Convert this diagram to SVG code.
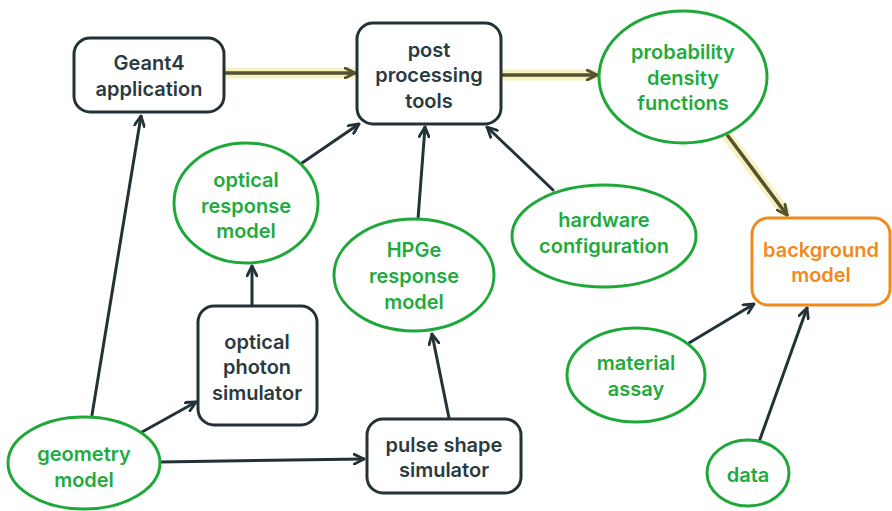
<svg xmlns="http://www.w3.org/2000/svg" width="892" height="511" viewBox="0 0 892 511">
<defs>
<style>
.box{fill:#fff;stroke:#233237;stroke-width:3}
.ell{fill:#fff;stroke:#1fa83a;stroke-width:3}
.bg{fill:#fff;stroke:#f08a1d;stroke-width:3}
text{font-family:Inter,"Liberation Sans",sans-serif;font-weight:600;font-size:20px;text-anchor:middle}
.t{fill:#2a3a3f}
.g{fill:#22ab3c}
.o{fill:#f08a1d}
.c{fill:none;stroke:#233237;stroke-width:3;stroke-linecap:round}
.h{fill:none;stroke:#545330;stroke-width:3.5;stroke-linecap:round}
.glow{fill:none;stroke:#f6eeb9;stroke-width:11;stroke-linecap:round;opacity:0.9}
</style>
<marker id="a" viewBox="0 0 12 12" refX="11" refY="6" markerWidth="12" markerHeight="12" markerUnits="userSpaceOnUse" orient="auto">
<path d="M1,1 L11,6 L1,11" fill="none" stroke="#233237" stroke-width="2.8" stroke-linecap="round" stroke-linejoin="round"/>
</marker>
<marker id="ah" viewBox="0 0 12 12" refX="11" refY="6" markerWidth="12" markerHeight="12" markerUnits="userSpaceOnUse" orient="auto">
<path d="M1,1 L11,6 L1,11" fill="none" stroke="#545330" stroke-width="3" stroke-linecap="round" stroke-linejoin="round"/>
</marker>
</defs>
<rect width="892" height="511" fill="#fff"/>
<g id="connectors">
<line class="glow" x1="218" y1="73" x2="352" y2="73"/>
<line class="glow" x1="498" y1="75" x2="594" y2="75"/>
<line class="glow" x1="728" y1="137" x2="785" y2="212"/>
<line class="h" x1="224" y1="73" x2="355" y2="73" marker-end="url(#ah)"/>
<line class="h" x1="501" y1="75" x2="597" y2="75" marker-end="url(#ah)"/>
<line class="h" x1="728" y1="136" x2="787" y2="215" marker-end="url(#ah)"/>
<line class="c" x1="92" y1="415" x2="141" y2="116" marker-end="url(#a)"/>
<line class="c" x1="142" y1="432" x2="196" y2="402" marker-end="url(#a)"/>
<line class="c" x1="160" y1="462" x2="364" y2="459" marker-end="url(#a)"/>
<line class="c" x1="252" y1="305" x2="252" y2="266" marker-end="url(#a)"/>
<line class="c" x1="302" y1="163" x2="359" y2="124" marker-end="url(#a)"/>
<line class="c" x1="418" y1="219" x2="425" y2="127" marker-end="url(#a)"/>
<line class="c" x1="449" y1="418" x2="432" y2="334" marker-end="url(#a)"/>
<line class="c" x1="553" y1="190" x2="487" y2="127" marker-end="url(#a)"/>
<line class="c" x1="689" y1="343" x2="754" y2="304" marker-end="url(#a)"/>
<line class="c" x1="759" y1="442" x2="807" y2="308" marker-end="url(#a)"/>
</g>
<g id="geant4">
<rect class="box" x="74" y="38" width="150" height="74" rx="16"/>
<text class="t" x="149" y="70">Geant4</text>
<text class="t" x="149" y="96">application</text>
</g>
<g id="post">
<rect class="box" x="357" y="23" width="144" height="101" rx="16"/>
<text class="t" x="429" y="57">post</text>
<text class="t" x="429" y="82">processing</text>
<text class="t" x="429" y="108">tools</text>
</g>
<g id="pdf">
<ellipse class="ell" cx="683" cy="77" rx="84" ry="66"/>
<text class="g" x="683" y="59">probability</text>
<text class="g" x="683" y="85">density</text>
<text class="g" x="683" y="110">functions</text>
</g>
<g id="background">
<rect class="bg" x="752" y="218" width="138" height="87" rx="16"/>
<text class="o" x="821" y="257">background</text>
<text class="o" x="821" y="282">model</text>
</g>
<g id="optical-response">
<ellipse class="ell" cx="246" cy="203" rx="72" ry="60"/>
<text class="g" x="246" y="187">optical</text>
<text class="g" x="246" y="213">response</text>
<text class="g" x="246" y="238">model</text>
</g>
<g id="optical-photon">
<rect class="box" x="198" y="306" width="119" height="119" rx="16"/>
<text class="t" x="257" y="349">optical</text>
<text class="t" x="257" y="374">photon</text>
<text class="t" x="257" y="400">simulator</text>
</g>
<g id="hpge">
<ellipse class="ell" cx="414" cy="275" rx="80" ry="56"/>
<text class="g" x="414" y="257">HPGe</text>
<text class="g" x="414" y="283">response</text>
<text class="g" x="414" y="309">model</text>
</g>
<g id="hardware">
<ellipse class="ell" cx="604" cy="236" rx="92" ry="51"/>
<text class="g" x="604" y="227">hardware</text>
<text class="g" x="604" y="253">configuration</text>
</g>
<g id="pulse">
<rect class="box" x="367" y="419" width="154" height="74" rx="16"/>
<text class="t" x="444" y="452">pulse shape</text>
<text class="t" x="444" y="477">simulator</text>
</g>
<g id="geometry">
<ellipse class="ell" cx="84" cy="463" rx="76" ry="46"/>
<text class="g" x="84" y="461">geometry</text>
<text class="g" x="84" y="487">model</text>
</g>
<g id="material">
<ellipse class="ell" cx="636" cy="375" rx="69" ry="47"/>
<text class="g" x="636" y="370">material</text>
<text class="g" x="636" y="396">assay</text>
</g>
<g id="data">
<ellipse class="ell" cx="748" cy="473" rx="41" ry="33"/>
<text class="g" x="748" y="482">data</text>
</g>
</svg>
